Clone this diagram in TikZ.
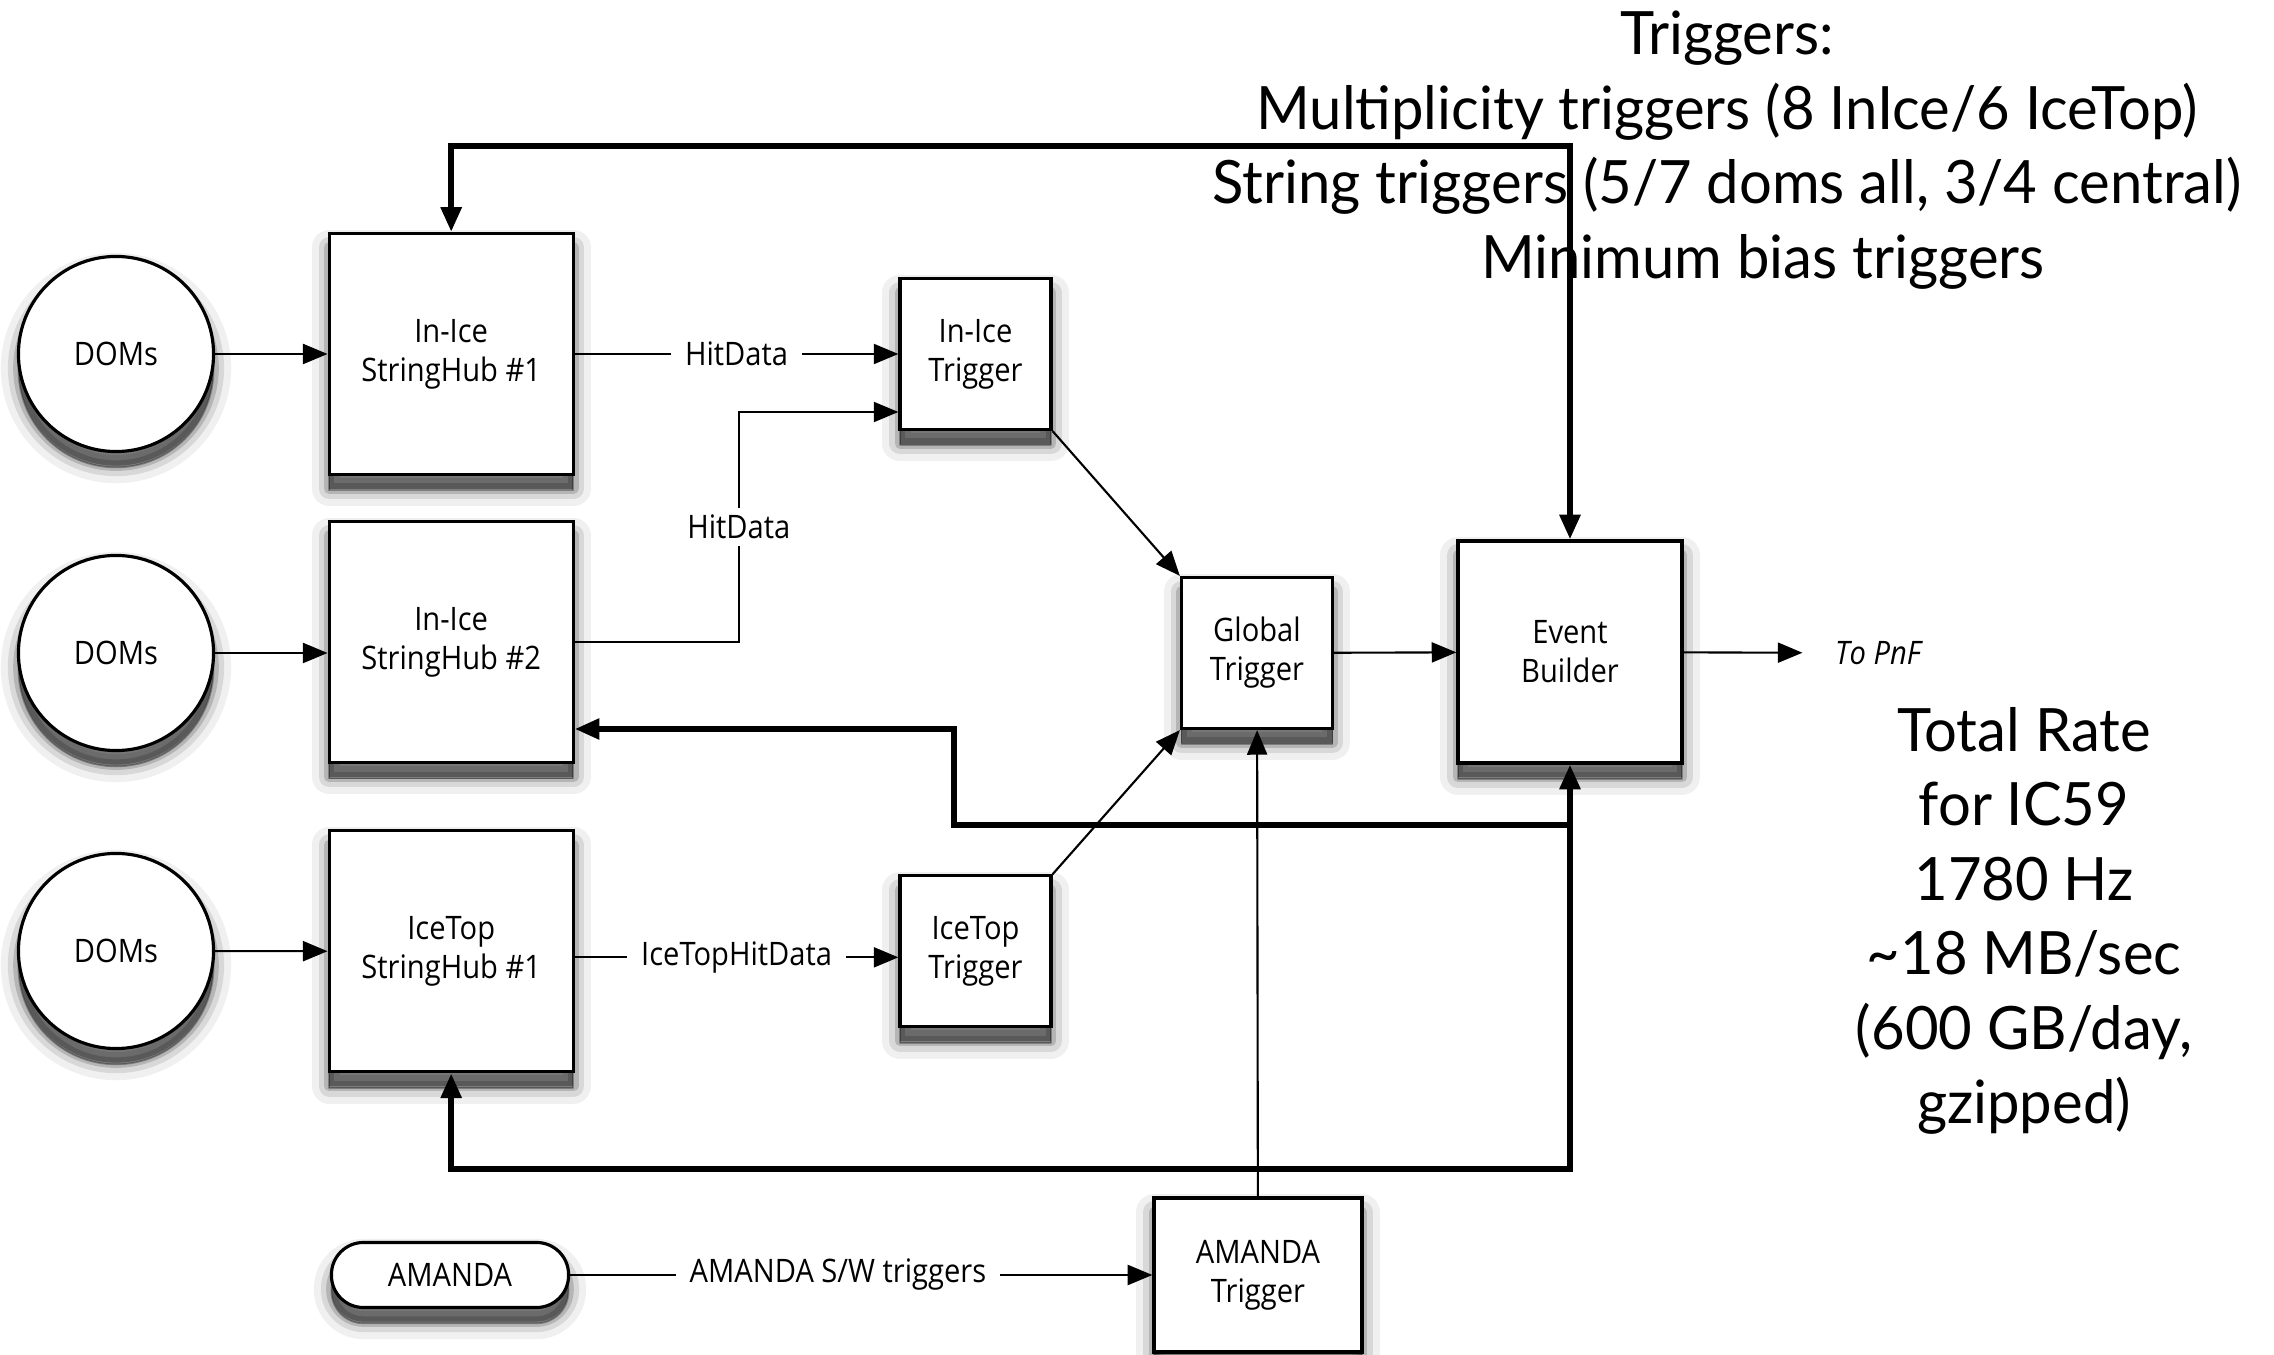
\documentclass[tikz,border=0pt]{standalone}
\usepackage{fontspec}
\setmainfont[FakeStretch=0.9]{Open Sans}
\newfontfamily\bigfont[FakeStretch=0.97]{Lato}
\usepackage{tikz}
\usetikzlibrary{arrows.meta,positioning,calc}

\tikzset{
	haze/.style n args={3}{preaction={fill=black,draw=black,line width=#1,line join=round,opacity=#3,
		transform canvas={yshift=#2}}},
	block/.style={draw,line width=0.9pt,fill=white,align=center,inner sep=0pt,
		font=\fontsize{9.2}{11.1}\selectfont,
		haze={10pt}{-4pt}{.06},haze={6pt}{-4pt}{.1},haze={3pt}{-4pt}{.16},haze={0.5pt}{-4.5pt}{.3}},
	hub/.style={block,minimum width=2.44cm,minimum height=2.41cm},
	trig/.style={block,minimum width=1.51cm,minimum height=1.51cm},
	domnode/.style={block,circle,minimum size=1.95cm},
	pill/.style={block,rounded corners=0.32cm,minimum width=2.37cm,minimum height=0.65cm},
	lbl/.style={fill=white,inner xsep=4pt,inner ysep=2pt,font=\fontsize{9.2}{11.1}\selectfont},
	feedback/.style={line width=1.6pt},
	bigtxt/.style={align=center,font=\bigfont\fontsize{17}{21.2}\selectfont}
}

\begin{document}
\begin{tikzpicture}[->,>={Triangle[length=7pt,width=5.7pt]},x=0.01cm,y=-0.01cm,line width=0.6pt]
			\useasboundingbox (0,0) rectangle (2274,1355);

			\node	[bigtxt]	(trignote)	at (1727,150)	{Triggers:\\Multiplicity triggers (8 InIce/6 IceTop)\\String triggers (5/7 doms all, 3/4 central)\\\hspace*{0.72cm}Minimum bias triggers};
			\node	[bigtxt]	(ratenote)	at (2024,921)	{Total Rate\\for IC59\\1780 Hz\\\textasciitilde18 MB/sec\\(600 GB/day,\\gzipped)};

			\node	[domnode]	(doms1)	at (116,354)							{DOMs};
			\node	[domnode]	(doms2)	at (116,653)							{DOMs};
			\node	[domnode]	(doms3)	at (116,951)							{DOMs};
			\node	[hub]		(sh1)	[right of=doms1,node distance=3.35cm]	{In-Ice\\StringHub \#1};
			\node	[hub]		(sh2)	[below of=sh1,node distance=2.88cm]	{In-Ice\\StringHub \#2};
			\node	[hub]		(ith)	[below of=sh2,node distance=3.09cm]	{IceTop\\StringHub \#1};
			\node	[trig]		(itrig)	[right of=sh1,node distance=5.24cm]	{In-Ice\\Trigger};
			\node	[trig]		(ttrig)	[right of=ith,node distance=5.24cm]	{IceTop\\Trigger};
			\node	[trig]		(gtrig)	at (1257,653)							{Global\\Trigger};
			\node	[hub,minimum width=2.24cm,minimum height=2.22cm]	(eb)	at (1570,652)	{Event\\Builder};
			\node	[pill]		(amanda)	at (450,1275)						{AMANDA};
			\node	[block,minimum width=2.08cm,minimum height=1.54cm]	(atrig)	at (1258,1275)	{AMANDA\\Trigger};
			\node	[lbl,font=\fontsize{9.2}{11.1}\selectfont\itshape,inner xsep=9pt]	(topnf)	at (1878,653)	{To PnF};

			\path
				(doms1)					edge									(sh1)
				(doms2)					edge									(doms2 -| sh2.west)
				(doms3)					edge									(ith)
				(sh1)					edge	node	[lbl]			{HitData}				(itrig)
				($(ith.east)+(0,6)$)	edge	node	[lbl]			{IceTopHitData}			($(ttrig.west)+(0,6)$)
				(amanda)				edge	node	[lbl,pos=.46]	{AMANDA S/W triggers}	(atrig)
				(itrig.south east)		edge									(gtrig.north west)
				(ttrig.north east)		edge									(gtrig.south west)
				(atrig)					edge									(gtrig)
				(gtrig)					edge									(eb)
				(eb)					edge									(topnf)
			;
			\draw (sh2.east) -- ++(164,0) |- node [lbl,pos=.25] {HitData} ($(itrig.west)+(0,58)$);

			% trigger requests back to the hubs
			\coordinate (fbtop)		at (1570,146);
			\coordinate (fbbot)		at (1570,1169);
			\coordinate (fbmid)		at (1570,825);
			\coordinate (fbturn)	at (954,729);
			\draw [feedback,<->]	(sh1.north) |- (fbtop) -- (eb.north);
			\draw [feedback,<->]	(ith.south) |- (fbbot) -- (eb.south);
			\draw [feedback]		(fbmid) -| (fbturn) -- (fbturn -| sh2.east);
		\end{tikzpicture}
\end{document}
